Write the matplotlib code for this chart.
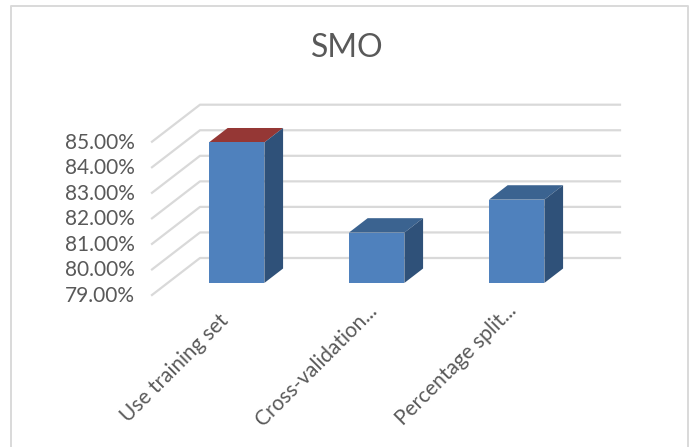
#!/usr/bin/env python3
import matplotlib
matplotlib.use("Agg")
import matplotlib.pyplot as plt
from matplotlib.lines import Line2D
from matplotlib.patches import Polygon
from matplotlib.transforms import ScaledTranslation

categories = ["Use training set", "Cross-validation...", "Percentage split..."]
values = [84.53, 81.0, 82.29]
top_colors = ["#953735", "#3B6390", "#3B6390"]
y_ticks = [79, 80, 81, 82, 83, 84, 85]
y_labels = ["79.00%", "80.00%", "81.00%", "82.00%", "83.00%", "84.00%", "85.00%"]

W, H = 691, 447
FRONT = "#4F81BD"
SIDE = "#2F5179"
GRID = "#D9D9D9"
TEXT = "#595959"

plt.rcParams["font.family"] = ["Lato", "DejaVu Sans"]

fig = plt.figure(figsize=(W / 100, H / 100), dpi=100)

# axes = front plane of the 3d box
left, right, top, bottom = 152, 572, 141.7, 295
ax = fig.add_axes([left / W, 1 - bottom / H, (right - left) / W, (bottom - top) / H])
ax.set_xlim(-0.5, 2.5)
ax.set_ylim(79, 85)

# depth of the box, in data units
px_x = 3 / (right - left)
px_y = 6 / (bottom - top)
DX = 48 * px_x
DY = 37 * px_y


def proj(x, v, d):
    return (x + DX * d, v + DY * d)


def face(pts, color, z):
    ax.add_patch(Polygon(pts, closed=True, fc=color, ec="none", clip_on=False, zorder=z))


# walls
for v in y_ticks:
    x0, y0 = proj(-0.5, v, 0)
    x1, y1 = proj(-0.5, v, 1)
    x2, y2 = proj(2.5, v, 1)
    ax.add_line(Line2D([x0, x1, x2], [y0, y1, y2], color=GRID, lw=1.6, clip_on=False, zorder=1))

# bars
d0, d1 = 0.305, 0.695
half = 0.198
base = 79.03
for i, v in enumerate(values):
    a, b = i - half, i + half
    face([proj(a, v, d0), proj(b, v, d0), proj(b, v, d1), proj(a, v, d1)], top_colors[i], 3)
    face([proj(b, base, d0), proj(b, v, d0), proj(b, v, d1), proj(b, base, d1)], SIDE, 3)
    face([proj(a, base, d0), proj(b, base, d0), proj(b, v, d0), proj(a, v, d0)], FRONT, 4)

for s in ax.spines.values():
    s.set_visible(False)
ax.patch.set_visible(False)
ax.set_yticks(y_ticks)
ax.set_yticklabels(y_labels, fontsize=15, color=TEXT)
ax.set_xticks(range(len(categories)))
ax.set_xticklabels(categories, fontsize=15, color=TEXT, rotation=45, ha="right",
                   rotation_mode="anchor")
ax.tick_params(axis="y", length=0, pad=12)
ax.tick_params(axis="x", length=0, pad=10)

# the original labels do not sit at one fixed distance from their category
nudges = [(-4, -1), (5, 8), (4, 8)]
for lab, (nx, ny) in zip(ax.get_xticklabels(), nudges):
    lab.set_transform(lab.get_transform() + ScaledTranslation(nx / 100, ny / 100, fig.dpi_scale_trans))
for lab in ax.get_yticklabels():
    lab.set_transform(lab.get_transform() + ScaledTranslation(0, 1 / 100, fig.dpi_scale_trans))

fig.text(347 / W, 1 - 48 / H, "SMO", fontsize=23, color=TEXT, ha="center", va="center")

# chart border (no bottom edge in the crop)
bx = [10.5 / W, 10.5 / W, 687.5 / W, 687.5 / W]
by = [0, 1 - 6 / H, 1 - 6 / H, 0]
fig.add_artist(Line2D(bx, by, color=GRID, lw=1.4))

fig.savefig("out.png", dpi=100)
